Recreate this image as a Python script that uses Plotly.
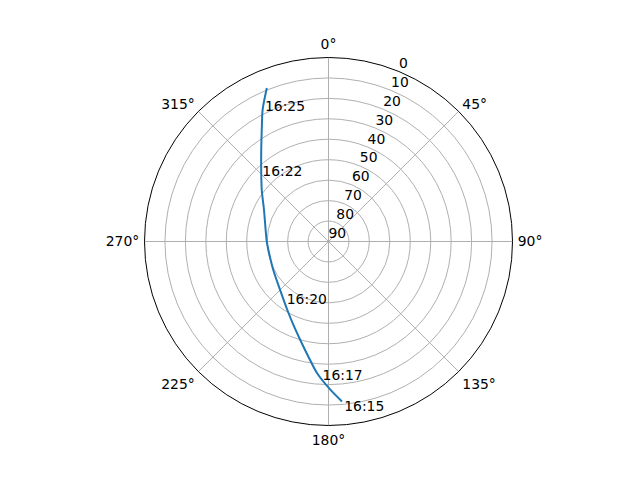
import plotly.graph_objects as go

# Satellite track: azimuth (deg, clockwise from north) and elevation (deg)
track_az = [175.2, 179.3, 185.0, 189.9, 196.1, 203.6, 211.0, 225.0, 242.7, 257.1,
            270.0, 296.0, 307.6, 316.8, 324.7, 329.9, 333.4, 338.1]
track_el = [11.5, 17.5, 25.4, 32.8, 40.0, 46.3, 50.9, 56.5, 59.6, 60.4,
            59.8, 54.9, 48.8, 41.9, 33.1, 25.0, 18.0, 9.1]

# Time labels along the track
label_text = ["16:15", "16:17", "16:20", "16:22", "16:25"]
label_az = [174.6, 182.5, 215.2, 316.0, 334.7]
label_el = [8.2, 23.8, 54.6, 43.4, 17.3]

# Axis ticks
theta_ticks = [0, 45, 90, 135, 180, 225, 270, 315]
theta_labels = [f"{t}°" for t in theta_ticks]
r_ticks = [0, 10, 20, 30, 40, 50, 60, 70, 80, 90]
r_label_angle = 22.5

FONT = dict(family="DejaVu Sans", size=13.9, color="black")

fig = go.Figure()
fig.add_trace(go.Scatterpolar(
    r=track_el, theta=track_az, mode="lines",
    line=dict(color="#1f77b4", width=2, shape="spline", smoothing=0.8),
    showlegend=False, hoverinfo="skip"))
fig.add_trace(go.Scatterpolar(
    r=label_el, theta=label_az, mode="text", text=label_text,
    textposition="middle right", textfont=FONT,
    showlegend=False, hoverinfo="skip"))
fig.add_trace(go.Scatterpolar(
    r=r_ticks, theta=[r_label_angle] * len(r_ticks), mode="text",
    text=[str(v) for v in r_ticks],
    textposition="top right", textfont=FONT,
    showlegend=False, hoverinfo="skip"))

fig.update_layout(
    width=640, height=480,
    margin=dict(l=0, r=0, t=0, b=0),
    paper_bgcolor="white",
    font=FONT,
    polar=dict(
        domain=dict(x=[0.2133, 0.7883], y=[0.1302, 0.8969]),
        bgcolor="white",
        angularaxis=dict(
            rotation=90, direction="clockwise",
            tickmode="array", tickvals=theta_ticks, ticktext=theta_labels,
            showgrid=True, gridcolor="#b0b0b0", gridwidth=0.8,
            showline=True, linecolor="black", linewidth=1,
            ticks="outside", ticklen=2, tickcolor="rgba(0,0,0,0)",
            tickfont=FONT,
        ),
        radialaxis=dict(
            range=[90, 0],
            tickmode="array", tickvals=r_ticks,
            showticklabels=False, showline=False, ticks="",
            showgrid=True, gridcolor="#b0b0b0", gridwidth=0.8,
        ),
    ),
)

fig.write_html("out.html")
